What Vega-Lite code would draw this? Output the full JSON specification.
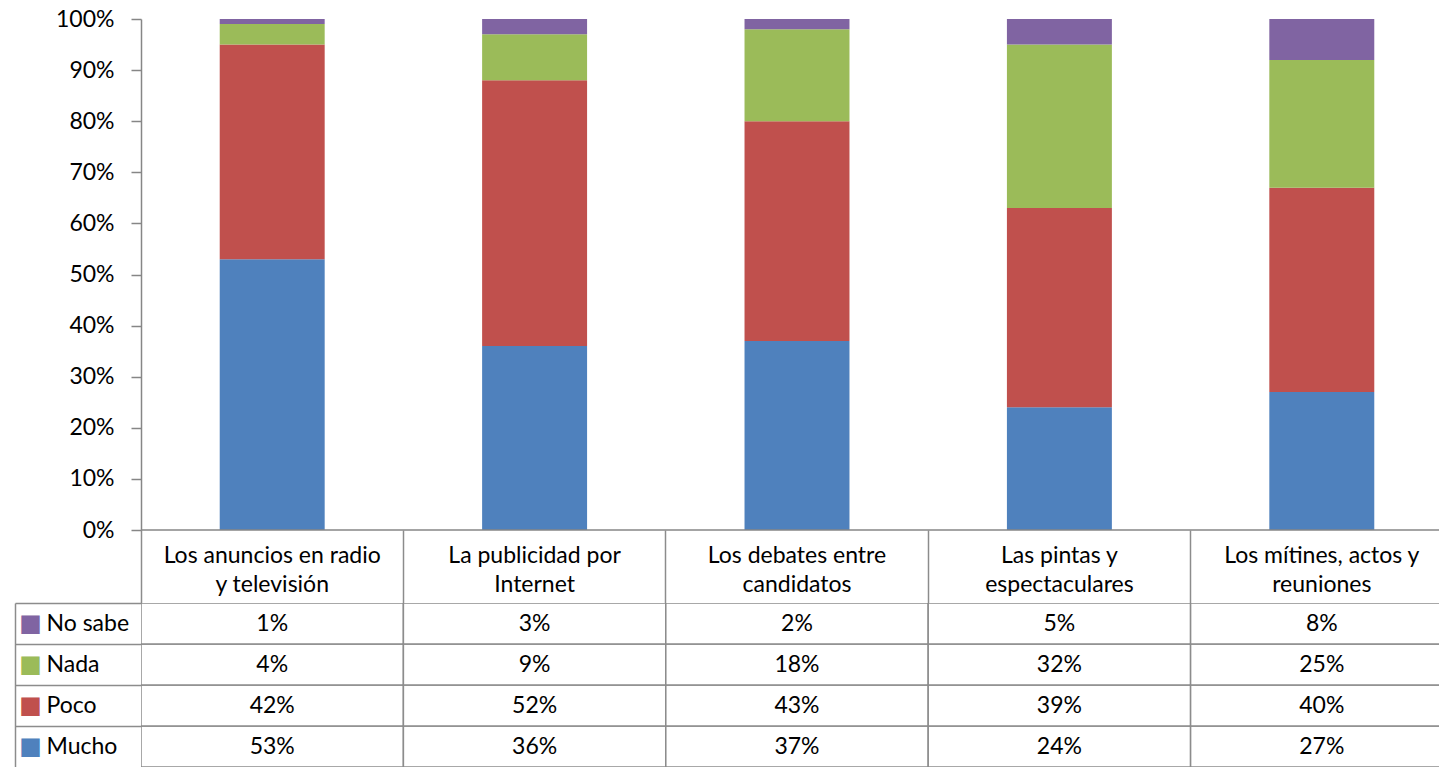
{
  "$schema": "https://vega.github.io/schema/vega-lite/v6.json",
  "padding": {"left": 14, "top": 8, "right": 0, "bottom": 0},
  "background": "white",
  "config": {"font": "Lato", "view": {"stroke": null}},
  "spacing": 73,
  "bounds": "flush",
  "resolve": {"scale": {"x": "independent", "y": "independent"}},
  "data": {
    "values": [
      {"categoria": "Los anuncios en radio y televisión", "serie": "Mucho", "valor": 0.53, "orden": 1},
      {"categoria": "Los anuncios en radio y televisión", "serie": "Poco", "valor": 0.42, "orden": 2},
      {"categoria": "Los anuncios en radio y televisión", "serie": "Nada", "valor": 0.04, "orden": 3},
      {"categoria": "Los anuncios en radio y televisión", "serie": "No sabe", "valor": 0.01, "orden": 4},
      {"categoria": "La publicidad por Internet", "serie": "Mucho", "valor": 0.36, "orden": 1},
      {"categoria": "La publicidad por Internet", "serie": "Poco", "valor": 0.52, "orden": 2},
      {"categoria": "La publicidad por Internet", "serie": "Nada", "valor": 0.09, "orden": 3},
      {"categoria": "La publicidad por Internet", "serie": "No sabe", "valor": 0.03, "orden": 4},
      {"categoria": "Los debates entre candidatos", "serie": "Mucho", "valor": 0.37, "orden": 1},
      {"categoria": "Los debates entre candidatos", "serie": "Poco", "valor": 0.43, "orden": 2},
      {"categoria": "Los debates entre candidatos", "serie": "Nada", "valor": 0.18, "orden": 3},
      {"categoria": "Los debates entre candidatos", "serie": "No sabe", "valor": 0.02, "orden": 4},
      {"categoria": "Las pintas y espectaculares", "serie": "Mucho", "valor": 0.24, "orden": 1},
      {"categoria": "Las pintas y espectaculares", "serie": "Poco", "valor": 0.39, "orden": 2},
      {"categoria": "Las pintas y espectaculares", "serie": "Nada", "valor": 0.32, "orden": 3},
      {"categoria": "Las pintas y espectaculares", "serie": "No sabe", "valor": 0.05, "orden": 4},
      {"categoria": "Los mítines, actos y reuniones", "serie": "Mucho", "valor": 0.27, "orden": 1},
      {"categoria": "Los mítines, actos y reuniones", "serie": "Poco", "valor": 0.40, "orden": 2},
      {"categoria": "Los mítines, actos y reuniones", "serie": "Nada", "valor": 0.25, "orden": 3},
      {"categoria": "Los mítines, actos y reuniones", "serie": "No sabe", "valor": 0.08, "orden": 4}
    ]
  },
  "vconcat": [
    {
      "width": 1299,
      "height": 511,
      "layer": [
        {
          "mark": {"type": "bar", "width": {"band": 0.4}},
          "encoding": {
            "x": {
              "field": "categoria", "type": "nominal", "sort": null,
              "scale": {"paddingInner": 0, "paddingOuter": 0, "range": [0, 1312]},
              "axis": {
                "title": null, "domain": false, "ticks": true, "bandPosition": 0,
                "tickSize": 73, "tickColor": "#8c8c8c", "tickWidth": 1.5,
                "labelAngle": 0, "labelFontSize": 23, "labelColor": "black",
                "labelBaseline": "alphabetic", "labelAlign": "center",
                "labelPadding": -41, "labelLineHeight": 29, "labelOverlap": false, "labelLimit": 0,
                "labelExpr": "{'Los anuncios en radio y televisión': ['Los anuncios en radio', 'y televisión'], 'La publicidad por Internet': ['La publicidad por', 'Internet'], 'Los debates entre candidatos': ['Los debates entre', 'candidatos'], 'Las pintas y espectaculares': ['Las pintas y', 'espectaculares'], 'Los mítines, actos y reuniones': ['Los mítines, actos y', 'reuniones']}[datum.value]"
              }
            },
            "y": {
              "field": "valor", "type": "quantitative", "stack": "zero",
              "scale": {"domain": [0, 1]},
              "axis": {
                "title": null, "format": "%", "values": [0, 0.1, 0.2, 0.3, 0.4, 0.5, 0.6, 0.7, 0.8, 0.9, 1],
                "grid": false, "domainColor": "#868686", "domainWidth": 1.5,
                "tickColor": "#868686", "tickWidth": 1.5, "tickSize": 10,
                "labelPadding": 17, "labelFontSize": 23, "labelColor": "black"
              }
            },
            "color": {
              "field": "serie", "type": "nominal",
              "scale": {"domain": ["Mucho", "Poco", "Nada", "No sabe"], "range": ["#4F81BD", "#C0504D", "#9BBB59", "#8064A2"]},
              "legend": null
            },
            "order": {"field": "orden", "type": "quantitative"}
          }
        },
        {
          "data": {"values": [{}]},
          "mark": {"type": "rule", "color": "#868686", "strokeWidth": 1.5},
          "encoding": {"y": {"datum": 0}}
        }
      ]
    },
    {
      "width": 1299,
      "height": 164,
      "resolve": {"axis": {"y": "independent"}},
      "layer": [
        {
          "mark": {"type": "rect", "fill": "white", "stroke": "#8c8c8c", "strokeWidth": 1.5, "clip": true},
          "encoding": {
            "x": {
              "field": "categoria", "type": "nominal", "sort": null,
              "scale": {"paddingInner": 0, "paddingOuter": 0, "range": [0, 1312]},
              "axis": null
            },
            "y": {
              "field": "serie", "type": "nominal", "sort": ["No sabe", "Nada", "Poco", "Mucho"],
              "scale": {"paddingInner": 0, "paddingOuter": 0},
              "axis": {
                "orient": "left", "title": null, "domain": false, "ticks": true, "bandPosition": 0,
                "tickSize": 126, "tickColor": "#8c8c8c", "tickWidth": 1.5,
                "labelAlign": "left", "labelBaseline": "middle", "labelPadding": -31,
                "labelFontSize": 23, "labelColor": "black"
              }
            }
          }
        },
        {
          "mark": {"type": "text", "fontSize": 23, "color": "black"},
          "encoding": {
            "x": {
              "field": "categoria", "type": "nominal", "sort": null,
              "scale": {"paddingInner": 0, "paddingOuter": 0, "range": [0, 1312]},
              "axis": null
            },
            "y": {
              "field": "serie", "type": "nominal", "sort": ["No sabe", "Nada", "Poco", "Mucho"],
              "scale": {"paddingInner": 0, "paddingOuter": 0},
              "axis": {
                "orient": "left", "title": null, "offset": 126, "domain": true,
                "domainColor": "#8c8c8c", "domainWidth": 1.5, "ticks": false,
                "labelExpr": "'■'", "labelFont": "DejaVu Sans", "labelFontSize": 24,
                "labelAlign": "center", "labelBaseline": "middle", "labelPadding": -15,
                "labelColor": {
                  "condition": [
                    {"test": "datum.value === 'No sabe'", "value": "#8064A2"},
                    {"test": "datum.value === 'Nada'", "value": "#9BBB59"},
                    {"test": "datum.value === 'Poco'", "value": "#C0504D"}
                  ],
                  "value": "#4F81BD"
                }
              }
            },
            "text": {"field": "valor", "type": "quantitative", "format": ".0%"}
          }
        }
      ]
    }
  ]
}
